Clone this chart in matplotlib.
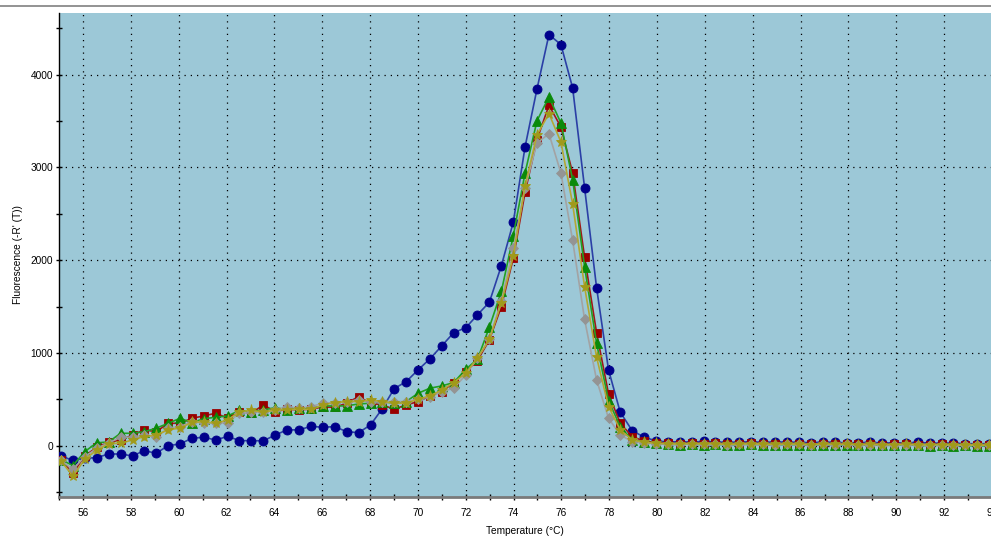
import matplotlib
matplotlib.use("Agg")
import matplotlib.pyplot as plt
from matplotlib.lines import Line2D
from matplotlib.ticker import MultipleLocator

plt.rcParams['font.family'] = ['Liberation Sans', 'DejaVu Sans']

# Melt-curve readings: temperature (°C) and -R'(T) for five wells
temperature = [
    55.08, 55.58, 56.07, 56.57, 57.07, 57.57, 58.07, 58.56, 59.06, 59.56,
    60.06, 60.55, 61.05, 61.55, 62.05, 62.54, 63.04, 63.54, 64.04, 64.53,
    65.03, 65.53, 66.03, 66.52, 67.02, 67.52, 68.02, 68.51, 69.01, 69.51,
    70.01, 70.50, 71.00, 71.50, 72.00, 72.49, 72.99, 73.49, 73.99, 74.48,
    74.98, 75.48, 75.98, 76.47, 76.97, 77.47, 77.97, 78.46, 78.96, 79.46,
    79.96, 80.45, 80.95, 81.45, 81.95, 82.44, 82.94, 83.44, 83.94, 84.43,
    84.93, 85.43, 85.93, 86.42, 86.92, 87.42, 87.92, 88.41, 88.91, 89.41,
    89.91, 90.40, 90.90, 91.40, 91.90, 92.39, 92.89, 93.39, 93.89,
]

well_blue = [
    -111, -160, -136, -130, -90, -90, -111, -54, -82, 0,
    18, 80, 90, 61, 100, 54, 54, 52, 115, 170,
    170, 208, 198, 205, 151, 140, 223, 398, 615, 690,
    817, 935, 1076, 1219, 1270, 1410, 1547, 1940, 2410, 3220,
    3846, 4432, 4324, 3857, 2778, 1705, 817, 360, 162, 91,
    51, 40, 42, 38, 45, 40, 35, 38, 42, 35,
    40, 38, 35, 32, 38, 36, 30, 33, 35, 30,
    28, 32, 34, 28, 25, 26, 22, 20, 22,
]

well_red = [
    -155, -300, -110, -20, 35, 61, 115, 170, 150, 241,
    241, 295, 320, 350, 295, 367, 350, 439, 367, 393,
    385, 395, 416, 414, 457, 529, 457, 439, 393, 439,
    475, 536, 583, 680, 798, 917, 1140, 1500, 2022, 2730,
    3300, 3669, 3436, 2939, 2031, 1219, 558, 242, 97, 50,
    30, 25, 20, 28, 22, 25, 18, 22, 25, 20,
    18, 22, 20, 15, 22, 18, 20, 15, 18, 12,
    15, 18, 12, 10, 15, 8, 12, 5, 8,
]

well_green = [
    -150, -215, -65, 30, 40, 133, 133, 150, 188, 241,
    295, 248, 290, 306, 320, 380, 367, 385, 410, 385,
    403, 403, 428, 428, 428, 450, 457, 475, 457, 475,
    565, 619, 644, 680, 824, 930, 1278, 1662, 2263, 2939,
    3503, 3759, 3479, 2867, 1928, 1105, 486, 205, 61, 40,
    25, 15, 12, 18, 10, 15, 8, 12, 15, 10,
    8, 12, 10, 5, 12, 8, 10, 5, 8, 2,
    5, 8, 2, 0, 5, -2, 2, -5, 0,
]

well_gray = [
    -160, -255, -120, -30, 30, 90, 90, 115, 90, 190,
    205, 259, 245, 241, 248, 350, 360, 367, 385, 421,
    403, 421, 457, 464, 475, 493, 475, 475, 475, 475,
    505, 525, 583, 619, 763, 943, 1148, 1561, 2130, 2780,
    3263, 3363, 2939, 2212, 1360, 709, 296, 115, 43, 30,
    20, 18, 15, 20, 15, 18, 12, 15, 18, 14,
    12, 15, 14, 10, 15, 12, 14, 10, 12, 8,
    10, 12, 8, 6, 10, 5, 8, 3, 5,
]

well_olive = [
    -165, -330, -147, -50, 20, 26, 61, 97, 115, 170,
    190, 250, 259, 241, 277, 367, 380, 360, 385, 385,
    395, 390, 439, 464, 475, 475, 493, 475, 457, 457,
    500, 536, 600, 680, 781, 943, 1148, 1537, 2045, 2800,
    3352, 3579, 3274, 2605, 1712, 954, 421, 170, 61, 35,
    25, 20, 16, 22, 18, 20, 14, 18, 20, 16,
    14, 18, 16, 12, 18, 14, 16, 12, 14, 10,
    12, 14, 10, 8, 12, 6, 10, 4, 6,
]

W, H = 991, 552
fig = plt.figure(figsize=(W / 100, H / 100), dpi=100)
fig.patch.set_facecolor('white')

# plot area: left edge at 59 px, runs off the right border
x_min, x_max = 55.0, 96.0
px_per_deg = 23.92
left_px = 83 - (56 - x_min) * px_per_deg
width_px = (x_max - x_min) * px_per_deg
top_px, bottom_px = 12.5, 497.3
ax = fig.add_axes([left_px / W, (H - bottom_px) / H,
                   width_px / W, (bottom_px - top_px) / H])
ax.set_facecolor('#9cc8d7')
ax.set_xlim(x_min, x_max)
ax.set_ylim(-557, 4670)

series = [
    (well_blue, '#00008b', '#2b3fa6', 'o', 6.5),
    (well_red, '#990000', '#a01818', 's', 6.0),
    (well_green, '#0a8a0a', '#22a022', '^', 6.5),
    (well_gray, '#949494', '#a3a3a3', 'D', 5.5),
    (well_olive, '#a09a1a', '#b3a834', '*', 8.0),
]
for values, mcol, lcol, mk, ms in series:
    ax.plot(temperature, values, color=lcol, linewidth=1.2,
            marker=mk, markersize=ms, markerfacecolor=mcol,
            markeredgecolor=mcol, markeredgewidth=0.6, zorder=3)

ax.xaxis.set_major_locator(MultipleLocator(2))
ax.xaxis.set_minor_locator(MultipleLocator(1))
ax.yaxis.set_major_locator(MultipleLocator(1000))
ax.yaxis.set_minor_locator(MultipleLocator(500))

ax.grid(True, which='major', color='black', linestyle=(0, (1, 4)),
        linewidth=0.9, zorder=1)
ax.set_axisbelow(True)

for side in ('top', 'right'):
    ax.spines[side].set_visible(False)
ax.spines['left'].set_color('black')
ax.spines['left'].set_linewidth(1.0)
ax.spines['bottom'].set_color('#7a7a7a')
ax.spines['bottom'].set_linewidth(2.0)

ax.tick_params(axis='both', which='both', direction='inout', length=5,
               width=1.0, color='black', labelsize=7.3, labelcolor='black')
ax.tick_params(axis='x', pad=5)
ax.tick_params(axis='y', pad=2)

fig.text(525 / W, 1 - 531.5 / H, 'Temperature (°C)', ha='center', va='center',
         fontsize=7.3)
fig.text(18 / W, 1 - 255 / H, "Fluorescence (-R' (T))", ha='center',
         va='center', rotation=90, fontsize=7.3)

# thin gray rule across the top of the window
fig.add_artist(Line2D([0, 1], [1 - 5.5 / H, 1 - 5.5 / H], transform=fig.transFigure,
                      color='#808080', linewidth=1.2))

fig.savefig('out.png', dpi=100)
